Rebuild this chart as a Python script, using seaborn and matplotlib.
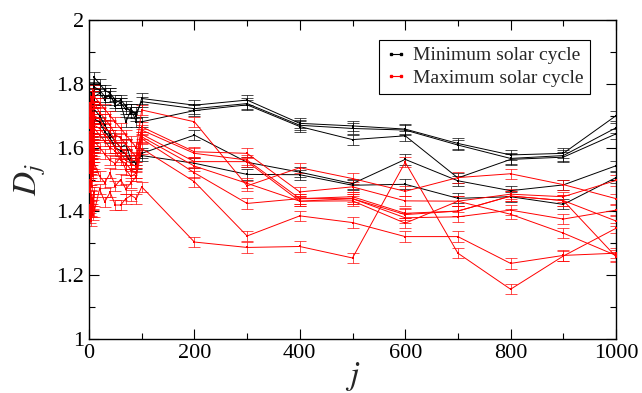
import numpy as np
import pandas as pd
import matplotlib
matplotlib.use("Agg")
import matplotlib.pyplot as plt
from matplotlib.lines import Line2D
from matplotlib.ticker import MultipleLocator
import seaborn as sns

# ---- data ----
j_vals = [1, 2, 3, 4, 5, 6, 7, 8, 9, 10,
          20, 30, 40, 50, 60, 70, 80, 90,
          100, 200, 300, 400, 500, 600, 700, 800, 900, 1000]

min_B1 = [1.74, 1.76, 1.72, 1.75, 1.77, 1.73, 1.76, 1.78, 1.80, 1.82,
          1.80, 1.78, 1.77, 1.75, 1.74, 1.72, 1.72, 1.70,
          1.754, 1.733, 1.749, 1.676, 1.668, 1.658, 1.613, 1.577, 1.582, 1.700]
min_B2 = [1.75, 1.70, 1.74, 1.72, 1.76, 1.74, 1.71, 1.75, 1.77, 1.79,
          1.78, 1.76, 1.76, 1.74, 1.75, 1.73, 1.71, 1.71,
          1.744, 1.722, 1.738, 1.670, 1.660, 1.655, 1.608, 1.566, 1.575, 1.662]
min_B3 = [1.72, 1.75, 1.70, 1.73, 1.71, 1.69, 1.74, 1.72, 1.75, 1.76,
          1.77, 1.75, 1.77, 1.73, 1.74, 1.68, 1.72, 1.68,
          1.681, 1.716, 1.734, 1.666, 1.625, 1.637, 1.505, 1.563, 1.570, 1.643]
min_B4 = [1.58, 1.62, 1.56, 1.64, 1.60, 1.65, 1.68, 1.66, 1.70, 1.72,
          1.70, 1.67, 1.64, 1.62, 1.60, 1.61, 1.56, 1.55,
          1.582, 1.639, 1.554, 1.523, 1.487, 1.563, 1.496, 1.465, 1.483, 1.543]
min_B5 = [1.55, 1.60, 1.54, 1.57, 1.62, 1.58, 1.63, 1.61, 1.66, 1.69,
          1.68, 1.65, 1.63, 1.60, 1.59, 1.58, 1.55, 1.56,
          1.575, 1.551, 1.516, 1.515, 1.482, 1.485, 1.441, 1.446, 1.422, 1.506]

max_Rc = [1.70, 1.74, 1.68, 1.76, 1.72, 1.75, 1.78, 1.74, 1.77, 1.76,
          1.74, 1.72, 1.70, 1.68, 1.66, 1.64, 1.62, 1.60,
          1.718, 1.681, 1.480, 1.537, 1.503, 1.463, 1.506, 1.518, 1.484, 1.440]
max_Rd = [1.66, 1.70, 1.64, 1.72, 1.68, 1.71, 1.69, 1.73, 1.72, 1.74,
          1.71, 1.69, 1.67, 1.64, 1.63, 1.61, 1.59, 1.57,
          1.665, 1.587, 1.582, 1.461, 1.477, 1.433, 1.432, 1.454, 1.446, 1.497]
max_Re = [1.64, 1.60, 1.67, 1.62, 1.69, 1.66, 1.70, 1.68, 1.71, 1.70,
          1.69, 1.66, 1.65, 1.62, 1.60, 1.58, 1.56, 1.56,
          1.655, 1.582, 1.561, 1.440, 1.446, 1.394, 1.401, 1.448, 1.434, 1.258]
max_Rh = [1.60, 1.65, 1.58, 1.63, 1.66, 1.62, 1.67, 1.65, 1.69, 1.67,
          1.66, 1.64, 1.62, 1.60, 1.58, 1.56, 1.55, 1.54,
          1.642, 1.556, 1.556, 1.432, 1.440, 1.380, 1.383, 1.404, 1.376, 1.404]
max_Rf = [1.56, 1.60, 1.54, 1.59, 1.62, 1.57, 1.63, 1.61, 1.64, 1.66,
          1.64, 1.62, 1.60, 1.59, 1.56, 1.55, 1.53, 1.52,
          1.634, 1.542, 1.488, 1.432, 1.433, 1.363, 1.432, 1.391, 1.332, 1.262]
max_Rg = [1.52, 1.56, 1.50, 1.55, 1.58, 1.53, 1.57, 1.60, 1.59, 1.62,
          1.60, 1.58, 1.56, 1.55, 1.57, 1.53, 1.51, 1.52,
          1.628, 1.521, 1.425, 1.440, 1.440, 1.390, 1.401, 1.448, 1.434, 1.370]
max_Ra = [1.46, 1.50, 1.44, 1.52, 1.48, 1.55, 1.51, 1.54, 1.57, 1.55,
          1.51, 1.49, 1.52, 1.48, 1.50, 1.47, 1.49, 1.51,
          1.597, 1.493, 1.323, 1.386, 1.365, 1.321, 1.321, 1.237, 1.262, 1.269]
max_Rb = [1.42, 1.38, 1.45, 1.37, 1.40, 1.44, 1.39, 1.42, 1.46, 1.40,
          1.47, 1.43, 1.46, 1.42, 1.42, 1.44, 1.45, 1.44,
          1.477, 1.304, 1.287, 1.290, 1.254, 1.554, 1.269, 1.156, 1.260, 1.347]

err_D = 0.016

min_series = [min_B1, min_B2, min_B3, min_B4, min_B5]
max_series = [max_Rc, max_Rd, max_Re, max_Rh, max_Rf, max_Rg, max_Ra, max_Rb]

x_ticks = [0, 200, 400, 600, 800, 1000]
y_ticks = [1, 1.2, 1.4, 1.6, 1.8, 2]
y_tick_labels = ["1", "1.2", "1.4", "1.6", "1.8", "2"]
legend_labels = ["Minimum solar cycle", "Maximum solar cycle"]

rows = []
for k, s in enumerate(min_series):
    for jj, d in zip(j_vals, s):
        rows.append({"j": jj, "D": d, "series": f"min{k}", "cycle": "Minimum"})
for k, s in enumerate(max_series):
    for jj, d in zip(j_vals, s):
        rows.append({"j": jj, "D": d, "series": f"max{k}", "cycle": "Maximum"})
df = pd.DataFrame(rows)

# ---- plot ----
sns.set_theme(style="ticks")
plt.rcParams["font.family"] = ["Liberation Serif", "DejaVu Serif"]
plt.rcParams["mathtext.fontset"] = "stix"

fig = plt.figure(figsize=(6.42, 3.93), dpi=100)
ax = fig.add_axes([89/642, 1 - 339/393, (616-89)/642, (339-20)/393])

colors = {"Minimum": "black", "Maximum": "red"}
for cyc in ["Minimum", "Maximum"]:
    sub = df[df["cycle"] == cyc]
    for sname, g in sub.groupby("series", sort=False):
        ax.errorbar(g["j"], g["D"], yerr=err_D, fmt="none", ecolor=colors[cyc],
                    elinewidth=0.7, capsize=4.0, capthick=0.7, alpha=0.7, zorder=2)
    sns.lineplot(data=sub, x="j", y="D", units="series", estimator=None,
                 color=colors[cyc], linewidth=0.7, marker="s", markersize=1.8,
                 markeredgewidth=0, ax=ax, legend=False, sort=False, zorder=3)

ax.set_xlim(0, 1000)
ax.set_ylim(1, 2)
ax.set_xticks(x_ticks)
ax.set_yticks(y_ticks)
ax.set_yticklabels(y_tick_labels)
ax.xaxis.set_minor_locator(MultipleLocator(100))
ax.yaxis.set_minor_locator(MultipleLocator(0.1))
ax.tick_params(which="both", direction="in", top=True, right=True,
               labelsize=16, colors="black")
ax.tick_params(which="major", length=7, width=0.8)
ax.tick_params(which="minor", length=4, width=0.8)
for sp in ax.spines.values():
    sp.set_linewidth(1.0)
    sp.set_color("black")

ax.set_xlabel(r"$j$", fontsize=24, labelpad=-2)
ax.set_ylabel(r"$\mathbf{\mathit{D}}_{j}$", fontsize=24, labelpad=6)

handles = [Line2D([0], [0], color="black", lw=0.8, marker="s", markersize=1.8),
           Line2D([0], [0], color="red", lw=0.8, marker="s", markersize=1.8)]
leg = ax.legend(handles, legend_labels, loc="upper right",
                bbox_to_anchor=((590-89)/527, (339-40)/319), borderaxespad=0,
                fontsize=14, numpoints=2,
                handlelength=1.1, handletextpad=0.3, borderpad=0.35,
                labelspacing=0.25, frameon=True, fancybox=False,
                edgecolor="black", framealpha=1)
leg.get_frame().set_linewidth(0.8)

fig.savefig("out.png", dpi=100)
